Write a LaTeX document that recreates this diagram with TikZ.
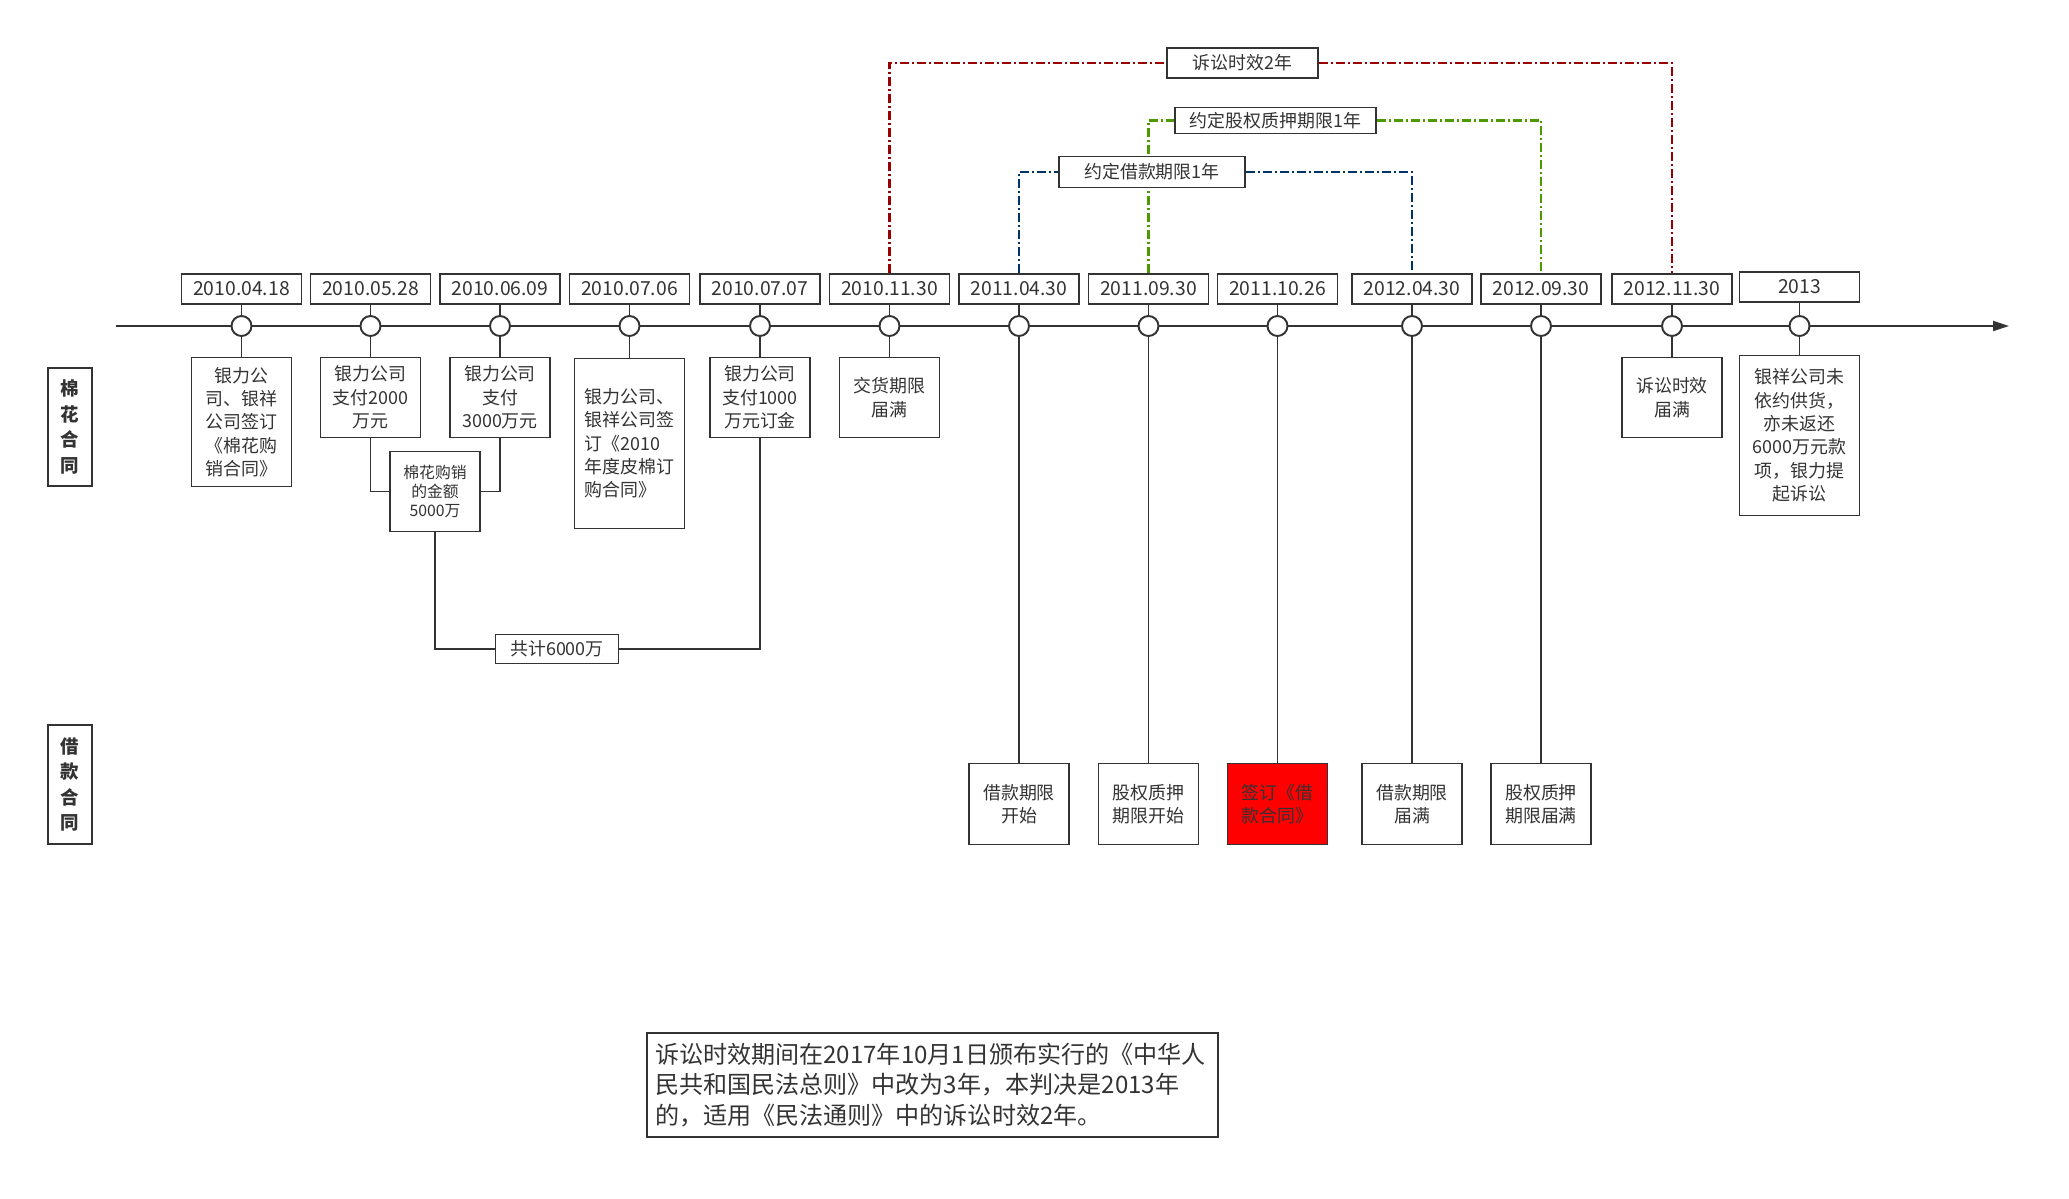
\documentclass[tikz,border=0pt]{standalone}
\usepackage{fontspec}
\usepackage{xcolor}
\newfontfamily\cjk{Noto Sans CJK SC}
\usetikzlibrary{arrows.meta, backgrounds}
\definecolor{linegray}{HTML}{333333}
\definecolor{litred}{HTML}{990000}
\definecolor{pledgegreen}{HTML}{4D9900}
\definecolor{loanblue}{HTML}{003366}
\definecolor{signred}{HTML}{FF0000}

\begin{document}
\begin{tikzpicture}[
    x=0.02cm, y=-0.02cm,
    link/.style={draw=linegray, line width=1.1pt},
    datebox/.style={draw=linegray, line width=1.1pt, fill=white, minimum width=2.4cm, minimum height=0.6cm, inner sep=0pt, text=linegray, font=\cjk\fontsize{11}{13}\selectfont},
    evbox/.style={draw=linegray, line width=1.1pt, fill=white, minimum width=2cm, minimum height=1.6cm, inner sep=0pt, align=center, text=linegray, font=\cjk\fontsize{10.2}{13.3}\selectfont},
    dot/.style={circle, draw=linegray, line width=1.1pt, fill=white, minimum size=0.4cm, inner sep=0pt},
    tag/.style={draw=linegray, line width=1.1pt, minimum width=0.88cm, minimum height=2.37cm, inner sep=0pt, align=center, text=linegray, font=\cjk\bfseries\fontsize{10.5}{14.6}\selectfont},
    spanline/.style={line width=1.3pt, color=#1, dash pattern=on 0.18cm off 0.06cm on 0.04cm off 0.06cm},
    spanlbl/.style={draw=linegray, line width=1.1pt, fill=white, minimum height=0.58cm, inner sep=0pt, text=linegray, font=\cjk\fontsize{10.2}{13.3}\selectfont},
]
\useasboundingbox (0,0) rectangle (2069,1198);

% Contract tags
\node[tag] (cotton) at (70,427) {棉\\花\\合\\同};
\node[tag] (loan) at (70,784.5) {借\\款\\合\\同};

% Time axis
\coordinate (axstart) at (116,326);
\coordinate (axend) at (2009,326);
\draw[link, -{Triangle[length=0.32cm, width=0.2cm]}] (axstart) -- (axend);

% Dates
\node[datebox] (dt1) at (241.5,289) {2010.04.18};
\node[datebox] (dt2) at (370.5,289) {2010.05.28};
\node[datebox] (dt3) at (500,289) {2010.06.09};
\node[datebox] (dt4) at (629.5,289) {2010.07.06};
\node[datebox] (dt5) at (760,289) {2010.07.07};
\node[datebox] (dt6) at (889.5,289) {2010.11.30};
\node[datebox] (dt7) at (1019,289) {2011.04.30};
\node[datebox] (dt8) at (1148.5,289) {2011.09.30};
\node[datebox] (dt9) at (1277.5,289) {2011.10.26};
\node[datebox] (dt10) at (1412,289) {2012.04.30};
\node[datebox] (dt11) at (1541,289) {2012.09.30};
\node[datebox] (dt12) at (1672,289) {2012.11.30};
\node[datebox] (dt13) at (1799.5,287) {2013};

% Points on the axis
\node[dot] (t1) at (241.5,326) {};
\node[dot] (t2) at (370.5,326) {};
\node[dot] (t3) at (500,326) {};
\node[dot] (t4) at (629.5,326) {};
\node[dot] (t5) at (760,326) {};
\node[dot] (t6) at (889.5,326) {};
\node[dot] (t7) at (1019,326) {};
\node[dot] (t8) at (1148.5,326) {};
\node[dot] (t9) at (1277.5,326) {};
\node[dot] (t10) at (1412,326) {};
\node[dot] (t11) at (1541,326) {};
\node[dot] (t12) at (1672,326) {};
\node[dot] (t13) at (1799.5,326) {};

% Cotton contract events
\node[evbox, minimum height=2.58cm] (e1) at (241.5,422) {银力公\\司、银祥\\公司签订\\《棉花购\\销合同》};
\node[evbox] (e2) at (370.5,397.5) {银力公司\\支付2000\\万元};
\node[evbox] (e3) at (500,397.5) {银力公司\\支付\\3000万元};
\node[evbox, minimum width=2.2cm, minimum height=3.4cm, align=left] (e4) at (629.5,443.5) {银力公司、\\银祥公司签\\订《2010\\年度皮棉订\\购合同》};
\node[evbox] (e5) at (760,397.5) {银力公司\\支付1000\\万元订金};
\node[evbox] (e6) at (889.5,397.5) {交货期限\\届满};
\node[evbox] (e7) at (1672,397.5) {诉讼时效\\届满};
\node[evbox, minimum width=2.4cm, minimum height=3.2cm] (e8) at (1799.5,435.5) {银祥公司未\\依约供货，\\亦未返还\\6000万元款\\项，银力提\\起诉讼};
\node[evbox, minimum width=1.8cm, font=\cjk\fontsize{9}{10.8}\selectfont] (sum) at (435,491.5) {棉花购销\\的金额\\5000万};
\node[evbox, minimum width=2.46cm, minimum height=0.58cm] (total) at (557,649) {共计6000万};

% Loan contract events
\node[evbox, minimum height=1.62cm] (b1) at (1019,804) {借款期限\\开始};
\node[evbox, minimum height=1.62cm] (b2) at (1148.5,804) {股权质押\\期限开始};
\node[evbox, minimum height=1.62cm, fill=signred] (b3) at (1277.5,804) {签订《借\\款合同》};
\node[evbox, minimum height=1.62cm] (b4) at (1412,804) {借款期限\\届满};
\node[evbox, minimum height=1.62cm] (b5) at (1541,804) {股权质押\\期限届满};

% Date to point to event
\foreach \i in {1,...,13} {
  \draw[link] (dt\i.south) -- (t\i.north);
}
\draw[link] (t1.south) -- (e1.north);
\draw[link] (t2.south) -- (e2.north);
\draw[link] (t3.south) -- (e3.north);
\draw[link] (t4.south) -- (e4.north);
\draw[link] (t5.south) -- (e5.north);
\draw[link] (t6.south) -- (e6.north);
\draw[link] (t12.south) -- (e7.north);
\draw[link] (t13.south) -- (e8.north);
\draw[link] (t7.south) -- (b1.north);
\draw[link] (t8.south) -- (b2.north);
\draw[link] (t9.south) -- (b3.north);
\draw[link] (t10.south) -- (b4.north);
\draw[link] (t11.south) -- (b5.north);

% Sums
\draw[link] (e2.south) |- (sum.west);
\draw[link] (e3.south) |- (sum.east);
\draw[link] (sum.south) |- (total.west);
\draw[link] (e5.south) |- (total.east);

% Periods
\node[spanlbl, minimum width=3.02cm, minimum height=0.6cm] (limit) at (1242.5,63) {诉讼时效2年};
\node[spanlbl, minimum width=4.02cm, minimum height=0.52cm] (pledge) at (1275.5,120.5) {约定股权质押期限1年};
\node[spanlbl, minimum width=3.72cm, minimum height=0.62cm] (term) at (1152,172) {约定借款期限1年};
\begin{scope}[on background layer]
\draw[spanline=litred] (dt6.north) |- (limit.west);
\draw[spanline=litred] (limit.east) -| (dt12.north);
\draw[spanline=pledgegreen] (dt8.north) |- (pledge.west);
\draw[spanline=pledgegreen] (pledge.east) -| (dt11.north);
\draw[spanline=loanblue] (dt7.north) |- (term.west);
\draw[spanline=loanblue] (term.east) -| (dt10.north);
\end{scope}

% Note
\node[draw=linegray, line width=1.1pt, minimum width=11.42cm, minimum height=2.02cm, text width=11.1cm, inner xsep=0.16cm, inner ysep=0.2cm, align=left, text=linegray, font=\cjk\fontsize{13.7}{17.5}\selectfont] (note) at (932.5,1085) {诉讼时效期间在2017年10月1日颁布实行的《中华人\\民共和国民法总则》中改为3年，本判决是2013年\\的，适用《民法通则》中的诉讼时效2年。};

\end{tikzpicture}
\end{document}
